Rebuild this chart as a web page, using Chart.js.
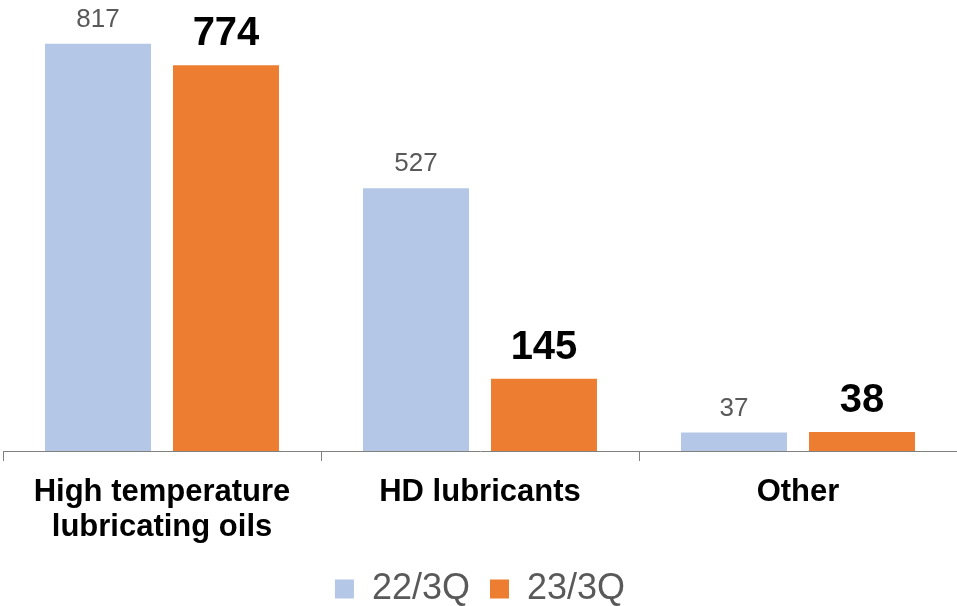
<!DOCTYPE html>
<html>
<head>
<meta charset="utf-8">
<script src="https://cdn.jsdelivr.net/npm/chart.js@4.4.1/dist/chart.umd.min.js"></script>
<style>
  html, body { margin: 0; padding: 0; background: #ffffff; }
  #wrap { width: 957px; height: 606px; position: relative; }
</style>
</head>
<body>
<div id="wrap"><canvas id="c"></canvas></div>
<script>
const categories = [["High temperature", "lubricating oils"], "HD lubricants", "Other"];
const seriesNames = ["22/3Q", "23/3Q"];
const values2022 = [817, 527, 37];
const values2023 = [774, 145, 38];

const FONT = "'Liberation Sans', Arial, Helvetica, sans-serif";

const valueLabels = {
  id: 'valueLabels',
  afterDatasetsDraw(chart) {
    const ctx = chart.ctx;
    chart.data.datasets.forEach((ds, di) => {
      const meta = chart.getDatasetMeta(di);
      meta.data.forEach((el, i) => {
        ctx.save();
        ctx.textAlign = 'center';
        ctx.textBaseline = 'alphabetic';
        if (di === 0) {
          ctx.font = "26px " + FONT;
          ctx.fillStyle = '#595959';
          ctx.fillText(String(ds.data[i]), el.x, el.y - 17);
        } else {
          ctx.font = "bold 40px " + FONT;
          ctx.fillStyle = '#000000';
          ctx.fillText(String(ds.data[i]), el.x, el.y - 20);
        }
        ctx.restore();
      });
    });
  }
};

new Chart(document.getElementById('c'), {
  type: 'bar',
  data: {
    labels: categories,
    datasets: [
      { label: seriesNames[0], data: values2022, backgroundColor: '#B4C7E7', borderWidth: 0 },
      { label: seriesNames[1], data: values2023, backgroundColor: '#ED7D31', borderWidth: 0 }
    ]
  },
  options: {
    responsive: true,
    maintainAspectRatio: false,
    animation: false,
    categoryPercentage: 0.805,
    barPercentage: 0.828,
    layout: { padding: { left: 3, right: 0, top: 0, bottom: 0 } },
    plugins: {
      legend: {
        position: 'bottom',
        maxHeight: 55,
        labels: {
          boxWidth: 19,
          boxHeight: 19,
          padding: 20,
          color: '#595959',
          font: { family: FONT, size: 36 }
        }
      },
      tooltip: { enabled: false }
    },
    scales: {
      x: {
        afterFit(scale) { scale.height = 100; },
        grid: {
          offset: true,
          drawOnChartArea: false,
          drawTicks: true,
          tickLength: 10,
          color: '#808080',
          lineWidth: 1
        },
        border: { display: true, color: '#808080', width: 1 },
        ticks: {
          color: '#000000',
          padding: 14,
          maxRotation: 0,
          autoSkip: false,
          font: { family: FONT, size: 31, weight: 'bold', lineHeight: 1.13 }
        }
      },
      y: {
        display: false,
        min: 0,
        max: 905
      }
    }
  },
  plugins: [valueLabels]
});
</script>
</body>
</html>
